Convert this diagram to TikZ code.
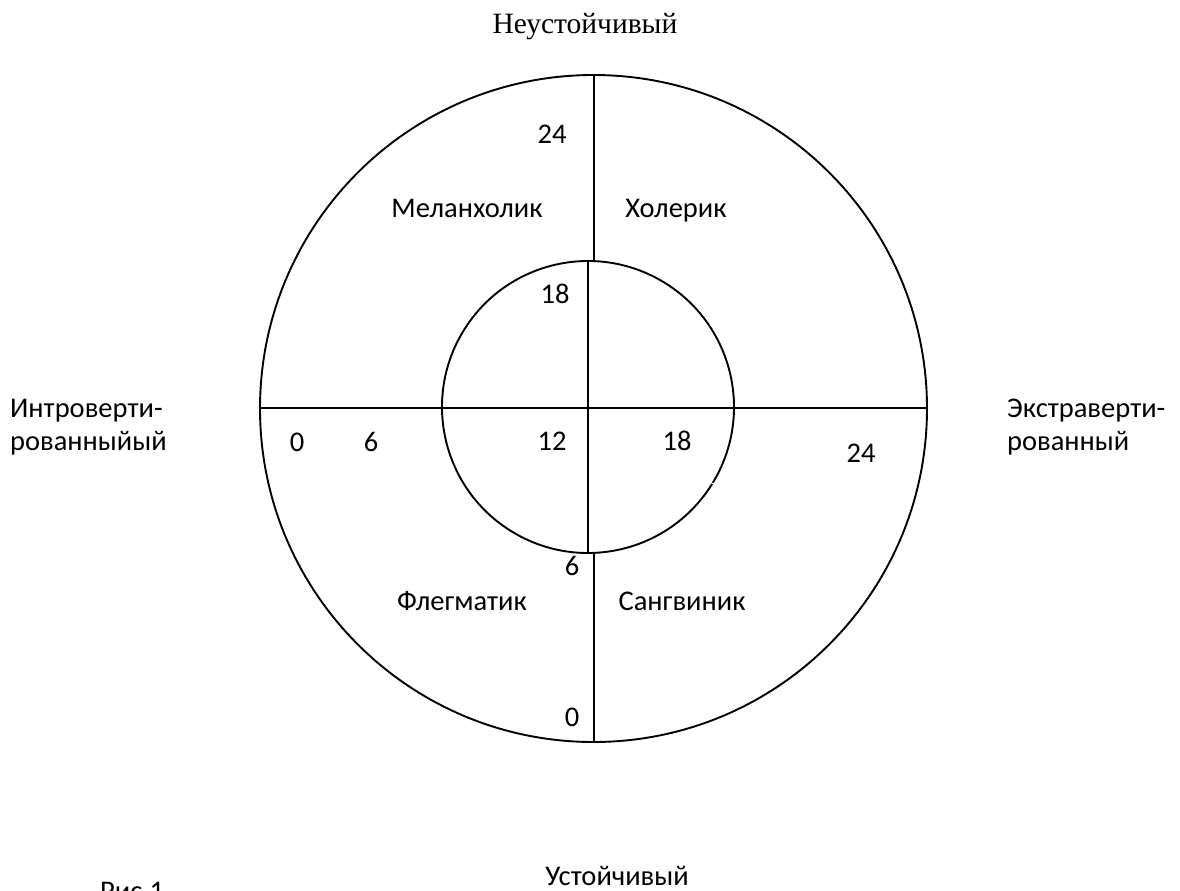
\documentclass[tikz,border=0pt]{standalone}
\usepackage{fontspec}
\setmainfont{Carlito}
\newfontfamily\serifcyr{Liberation Serif}
\begin{document}
\begin{tikzpicture}[x=1pt,y=-1pt,
  line/.style={line width=1.9pt,black},
  lbl/.style={inner sep=0pt,anchor=base,font=\fontsize{28.5}{33}\selectfont},
  lblw/.style={inner sep=0pt,anchor=base west,font=\fontsize{28.5}{33}\selectfont}]
\useasboundingbox (0,0) rectangle (1180,891);
% outer circle
\coordinate (oc) at (593.5,408.5);
\draw[line] (oc) circle[radius=333.5pt];
% inner circle (with small gap)
\coordinate (ic) at (588,407);
\draw[line] (ic) ++(-31.3:146pt) arc[start angle=-31.3,end angle=328.2,radius=146pt];
% axes
\coordinate (otop) at (594,75);
\coordinate (itop) at (594,261);
\coordinate (itopb) at (588,261);
\coordinate (ibot) at (588,553);
\coordinate (ibotb) at (594,553);
\coordinate (obot) at (594,742);
\coordinate (oleft) at (260,408);
\coordinate (ileft) at (442,408);
\coordinate (iright) at (734,408);
\coordinate (oright) at (927,408);
\draw[line] (otop) -- (itop);
\draw[line] (itopb) -- (ibot);
\draw[line] (ibotb) -- (obot);
\draw[line] (oleft) -- (ileft) -- (iright) -- (oright);
% labels
\node[lbl,font=\fontsize{29.5}{33}\selectfont\serifcyr] (unst) at (585,34) {Неустойчивый};
\node[lbl] (n24t) at (552,143) {24};
\node[lbl] (mel) at (467,217) {Меланхолик};
\node[lbl] (hol) at (676,217) {Холерик};
\node[lbl] (n18t) at (555,303) {18};
\node[lblw] (intro1) at (10,417) {Интроверти-};
\node[lblw] (intro2) at (10,450) {рованныйый};
\node[lbl] (n0l) at (297,451) {0};
\node[lbl] (n6l) at (371,451) {6};
\node[lbl] (n12) at (552,450) {12};
\node[lbl] (n18r) at (677,450) {18};
\node[lbl] (n24r) at (861,462) {24};
\node[lblw] (extra1) at (1007,417) {Экстраверти-};
\node[lblw] (extra2) at (1007,450) {рованный};
\node[lbl] (n6b) at (572,575) {6};
\node[lbl] (fleg) at (462,610) {Флегматик};
\node[lbl] (sang) at (682,610) {Сангвиник};
\node[lbl] (n0b) at (572,726) {0};
\node[lbl] (ust) at (617,885) {Устойчивый};
\node[lblw] (ris) at (100,900) {Рис.1};
\end{tikzpicture}
\end{document}
